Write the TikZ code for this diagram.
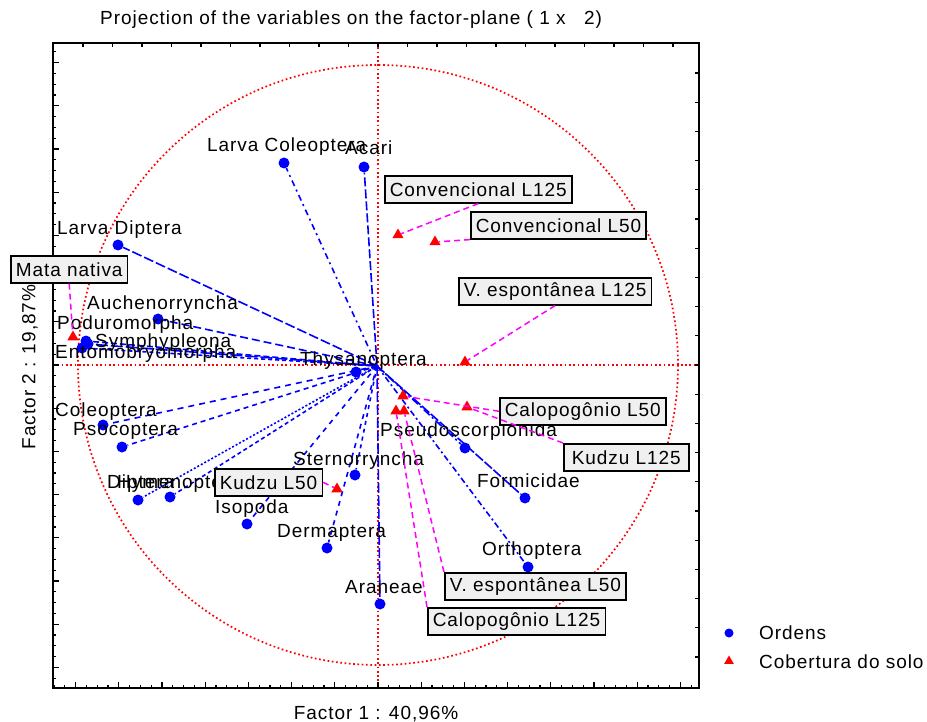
\documentclass[tikz,border=0pt]{standalone}
\usepackage{fontspec}
\setmainfont{Liberation Sans}[LetterSpace=5]
\usetikzlibrary{shapes.geometric,calc}
\definecolor{pblue}{RGB}{0,0,255}
\definecolor{pred}{RGB}{255,0,0}
\definecolor{pmag}{RGB}{255,0,255}
\definecolor{boxgray}{RGB}{240,240,240}
\tikzset{
  txt/.style={font=\fontsize{19}{22}\selectfont, inner sep=0pt, anchor=base west},
  dot/.style={circle, fill=pblue, draw=none, minimum size=11pt, inner sep=0pt},
  tri/.style={regular polygon, regular polygon sides=3, fill=pred, draw=none, minimum size=13pt, inner sep=0pt},
  lbox/.style={draw=black, line width=1.6pt, fill=boxgray, font=\fontsize{19}{22}\selectfont,
    minimum height=27pt, inner xsep=5pt, inner ysep=0pt, anchor=north west},
  vec/.style={pblue, line width=1.6pt},
  leader/.style={pmag, line width=1.5pt, dash pattern=on 6pt off 4pt},
  axisline/.style={pred, line width=1.7pt, dash pattern=on 1.7pt off 2.6pt},
}
\begin{document}
\begin{tikzpicture}[x=1pt,y=-1pt]
\useasboundingbox (0,0) rectangle (927,722);
% axes and circle
\draw[axisline] (53,365) -- (699,365);
\draw[axisline] (378,43) -- (378,688);
\draw[axisline] (378,365) circle[radius=300];
% frame
\draw[line width=2.2pt] (53,43) rectangle (699,688);
\foreach \k in {-29,...,29}{
  \pgfmathsetmacro{\yy}{365+10.8*\k}
  \pgfmathsetmacro{\len}{ifthenelse(mod(abs(\k),4)==0,6,3)}
  \draw[line width=1.3pt] (53,\yy) -- ++(\len,0);
}
\foreach \k in {-30,...,29}{
  \pgfmathsetmacro{\xx}{378+10.8*\k}
  \pgfmathsetmacro{\len}{ifthenelse(mod(abs(\k),4)==0,6,3)}
  \draw[line width=1.3pt] (\xx,688) -- ++(0,-\len);
}
\foreach \k in {-10,...,10}{
  \draw[line width=1.3pt] (378+29.5*\k,43) -- ++(0,4);
  \draw[line width=1.3pt] (699,365+29.2*\k) -- ++(-4,0);
}
% title and axis labels
\node[txt] (title) at (100,25) {Projection of the variables on the factor-plane ( 1 x \ \ 2)};
\node[txt, anchor=base] (xlab) at (376,719) {Factor 1 : 40,96\%};
\node[txt, anchor=center, rotate=90] (ylab) at (30,367) {Factor 2 : 19,87\%};
% centre
\coordinate (o) at (377,366);
% blue points
\node[dot] (lcol) at (284,163) {};
\node[dot] (acar) at (364,167) {};
\node[dot] (ldip) at (118,245) {};
\node[dot] (auch) at (158,319) {};
\node[dot] (podu) at (86,341) {};
\node[dot] (symp) at (88,344) {};
\node[dot] (ento) at (82,348) {};
\node[dot] (thys) at (356,372) {};
\node[dot] (cole) at (103,425) {};
\node[dot] (psoc) at (122,447) {};
\node[dot] (dipt) at (138,500) {};
\node[dot] (hyme) at (170,497) {};
\node[dot] (isop) at (247,524) {};
\node[dot] (derm) at (327,548) {};
\node[dot] (ster) at (355,475) {};
\node[dot] (pseu) at (465,448) {};
\node[dot] (form) at (525,498) {};
\node[dot] (orth) at (528,567) {};
\node[dot] (aran) at (380,604) {};
% vectors
\draw[vec, dash pattern=on 2pt off 4pt on 6pt off 4pt] (o) -- (lcol);
\draw[vec, dash pattern=on 9pt off 3pt] (o) -- (acar);
\draw[vec, dash pattern=on 10pt off 3pt] (o) -- (ldip);
\draw[vec, dash pattern=on 8pt off 4pt] (o) -- (auch);
\draw[vec, dash pattern=on 6pt off 3pt] (o) -- (podu);
\draw[vec, dash pattern=on 12pt off 3pt] (o) -- (symp);
\draw[vec, dash pattern=on 4pt off 3pt] (o) -- (ento);
\draw[vec, dash pattern=on 5pt off 3pt] (o) -- (thys);
\draw[vec, dash pattern=on 6pt off 5pt] (o) -- (cole);
\draw[vec, dash pattern=on 5pt off 4pt] (o) -- (psoc);
\draw[vec, dash pattern=on 2pt off 2pt] (o) -- (dipt);
\draw[vec, dash pattern=on 4pt off 3pt] (o) -- (hyme);
\draw[vec, dash pattern=on 5pt off 5pt] (o) -- (isop);
\draw[vec, dash pattern=on 5pt off 5pt] (o) -- (derm);
\draw[vec, dash pattern=on 4pt off 4pt] (o) -- (ster);
\draw[vec, dash pattern=on 8pt off 3pt on 2pt off 3pt] (o) -- (pseu);
\draw[vec, dash pattern=on 10pt off 2pt] (o) -- (form);
\draw[vec, dash pattern=on 6pt off 3pt on 2pt off 3pt] (o) -- (orth);
\draw[vec, dash pattern=on 10pt off 3pt] (o) -- (aran);
% blue labels
\node[txt] (llcol) at (207,152) {Larva Coleoptera};
\node[txt] (lacar) at (345,155) {Acari};
\node[txt] (lldip) at (57,235) {Larva Diptera};
\node[txt] (lauch) at (87,309) {Auchenorryncha};
\node[txt] (lpodu) at (57,330) {Poduromorpha};
\node[txt] (lsymp) at (95,348) {Symphypleona};
\node[txt] (lento) at (55,358) {Entomobryomorpha};
\node[txt] (lthys) at (300,365) {Thysanoptera};
\node[txt] (lcole) at (55,416) {Coleoptera};
\node[txt] (lpsoc) at (73,435) {Psocoptera};
\node[txt] (lhyme) at (117,488) {Hymenoptera};
\node[txt] (ldipt) at (107,488) {Diptera};
\node[txt] (lisop) at (215,513) {Isopoda};
\node[txt] (lderm) at (277,537) {Dermaptera};
\node[txt] (lster) at (293,465) {Sternorryncha};
\node[txt] (lpseu) at (380,436) {Pseudoscorpionida};
\node[txt] (lform) at (477,487) {Formicidae};
\node[txt] (lorth) at (482,555) {Orthoptera};
\node[txt] (laran) at (345,593) {Araneae};
% red triangles
\node[tri] (tmata) at (73,337) {};
\node[tri] (tcl125) at (398,235) {};
\node[tri] (tcl50) at (435,242) {};
\node[tri] (tvl125) at (465,362) {};
\node[tri] (tcal50) at (403,396) {};
\node[tri] (tkud125) at (467,407) {};
\node[tri] (tcal125) at (396,411) {};
\node[tri] (tvl50) at (404,411) {};
\node[tri] (tkud50) at (337,489) {};
% boxes
\node[lbox] (bmata) at (10,255) {Mata nativa};
\node[lbox] (bcl125) at (384,175) {Convencional L125};
\node[lbox] (bcl50) at (470,211) {Convencional L50};
\node[lbox] (bvl125) at (458,277) {V. espontânea L125};
\node[lbox] (bcal50) at (499,397) {Calopogônio L50};
\node[lbox, inner xsep=8pt] (bkud125) at (563,443) {Kudzu L125};
\node[lbox] (bkud50) at (214,468) {Kudzu L50};
\node[lbox] (bvl50) at (444,572) {V. espontânea L50};
\node[lbox] (bcal125) at (427,607) {Calopogônio L125};
% leaders
\draw[leader] (bmata.south) -- (tmata);
\draw[leader] (bcl125.south) -- (tcl125);
\draw[leader] (bcl50.south west) -- (tcl50);
\draw[leader] (bvl125.south) -- (tvl125);
\draw[leader] (bcal50.west) -- (tcal50);
\draw[leader] (bkud125.north west) -- (tkud125);
\draw[leader] (bkud50.east) -- (tkud50);
\draw[leader] (bvl50.north west) -- (tvl50);
\draw[leader] (bcal125.north west) -- (tcal125);
% legend
\node[dot, minimum size=9pt] (legdot) at (729,633) {};
\node[tri, minimum size=11pt] (legtri) at (729,661) {};
\node[txt] (legord) at (759,639) {Ordens};
\node[txt] (legcob) at (759,668) {Cobertura do solo};
\end{tikzpicture}
\end{document}
